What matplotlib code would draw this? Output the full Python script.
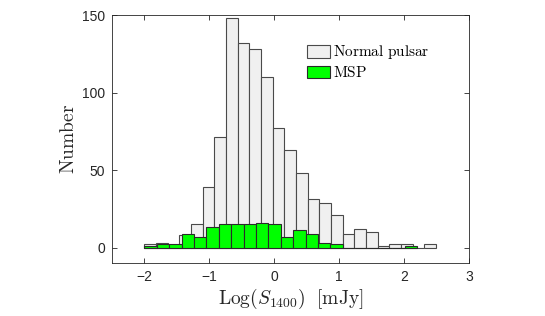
import numpy as np
import matplotlib
matplotlib.use("Agg")
import matplotlib.pyplot as plt

plt.rcParams["mathtext.fontset"] = "cm"
plt.rcParams["font.family"] = ["Liberation Sans", "DejaVu Sans"]

# Histogram counts
normal_counts = [2, 3, 1, 8, 15, 39, 71, 148, 132, 128, 110, 77, 63,
                 48, 31, 29, 21, 9, 12, 10, 1, 2, 2, 0, 2]
msp_counts = [1, 2, 2, 9, 7, 13, 15, 15, 15, 16, 15, 7, 11, 9, 3, 2,
              0, 0, 0, 0, 0, 1]

# Bin edges (log flux), each histogram has its own binning
normal_edges = np.linspace(-2.0, 2.49, len(normal_counts) + 1)
msp_edges = np.linspace(-2.0, 2.2, len(msp_counts) + 1)

xticks = [-2, -1, 0, 1, 2, 3]
yticks = [0, 50, 100, 150]

fig = plt.figure(figsize=(5.45, 3.16), dpi=100)
ax = fig.add_axes([0.2055, 0.1677, 0.655, 0.7848])

ax.hist(normal_edges[:-1], bins=normal_edges, weights=normal_counts,
        facecolor="#f0f0f0", edgecolor="#4a4a4a", linewidth=0.8,
        label="Normal pulsar")
ax.hist(msp_edges[:-1], bins=msp_edges, weights=msp_counts,
        facecolor="#00ff00", edgecolor="#2a2a2a", linewidth=0.8,
        label="MSP")

ax.set_xlim(-2.5, 3)
ax.set_ylim(-10, 150)
ax.set_xticks(xticks)
ax.set_yticks(yticks)
ax.tick_params(direction="in", top=True, right=True, length=3.5,
               width=0.6, labelsize=10, colors="#262626", pad=5)
for s in ax.spines.values():
    s.set_color("#262626")
    s.set_linewidth(0.6)

ax.set_xlabel(r"$\mathrm{Log}(S_{1400})\ \ [\mathrm{mJy}]$", fontsize=14,
              color="#262626", labelpad=2)
ax.set_ylabel(r"$\mathrm{Number}$", fontsize=14, color="#262626",
              labelpad=3)

ax.legend(loc="upper left", bbox_to_anchor=(0.53, 0.91), frameon=False,
          prop={"family": "serif", "size": 11}, handlelength=1.5,
          handleheight=0.9, handletextpad=0.2, labelspacing=0.25,
          borderaxespad=0)
for t in ax.get_legend().get_texts():
    t.set_text(r"$\mathrm{" + t.get_text().replace(" ", r"\ ") + "}$")

fig.savefig("out.png", dpi=100)
